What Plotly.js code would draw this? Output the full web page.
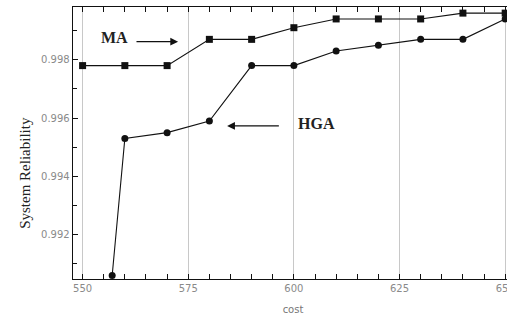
<!DOCTYPE html>
<html>
<head>
<meta charset="utf-8">
<script src="https://cdn.plot.ly/plotly-3.0.1.min.js"></script>
<style>
  html, body { margin: 0; padding: 0; background: #fff; overflow: hidden; width: 507px; height: 327px; }
  #chart { width: 530px; height: 327px; }
</style>
</head>
<body>
<div id="chart"></div>
<script>
// Cost values at which each algorithm was evaluated
const costMA = [550, 560, 570, 580, 590, 600, 610, 620, 630, 640, 650];
const reliabilityMA = [0.9978, 0.9978, 0.9978, 0.9987, 0.9987, 0.9991, 0.9994, 0.9994, 0.9994, 0.9996, 0.9996];

const costHGA = [557, 560, 570, 580, 590, 600, 610, 620, 630, 640, 650];
const reliabilityHGA = [0.9906, 0.9953, 0.9955, 0.9959, 0.9978, 0.9978, 0.9983, 0.9985, 0.9987, 0.9987, 0.9994];

const xTickVals = [550, 575, 600, 625, 650];
const yTickVals = [0.992, 0.994, 0.996, 0.998];
const yTickText = ['0.992', '0.994', '0.996', '0.998'];

const traces = [
  {
    x: costMA, y: reliabilityMA, mode: 'lines+markers', name: 'MA',
    line: { color: '#111', width: 1.1 },
    marker: { symbol: 'square', size: 7, color: '#111' },
    cliponaxis: false
  },
  {
    x: costHGA, y: reliabilityHGA, mode: 'lines+markers', name: 'HGA',
    line: { color: '#111', width: 1.1 },
    marker: { symbol: 'circle', size: 7, color: '#111' },
    cliponaxis: false
  }
];

const tickFont = { family: 'DejaVu Sans', size: 10, color: '#8a8a8a' };

const layout = {
  width: 530, height: 327,
  margin: { l: 73, r: 17, t: 7, b: 48 },
  paper_bgcolor: '#fff', plot_bgcolor: '#fff',
  showlegend: false,
  xaxis: {
    range: [547.73, 651.85],
    tickvals: xTickVals,
    ticks: 'inside', ticklen: 5, tickcolor: '#111', tickwidth: 1,
    minor: { dtick: 5, tick0: 550, ticks: 'inside', ticklen: 5, tickcolor: '#111', showgrid: false },
    showgrid: true, gridcolor: '#c8c8c8', gridwidth: 1,
    showline: true, linecolor: '#111', linewidth: 1.3, mirror: 'ticks',
    zeroline: false,
    tickfont: tickFont,
    title: { text: 'cost', font: { family: 'DejaVu Sans', size: 10, color: '#777' }, standoff: 12 }
  },
  yaxis: {
    range: [0.99048, 0.99981],
    tickvals: yTickVals, ticktext: yTickText,
    ticks: 'inside', ticklen: 5, tickcolor: '#111', tickwidth: 1,
    minor: { dtick: 0.001, tick0: 0.99, ticks: 'inside', ticklen: 4, tickcolor: '#111', showgrid: false },
    showgrid: false,
    showline: true, linecolor: '#111', linewidth: 1.3, mirror: 'ticks',
    zeroline: false,
    tickfont: tickFont
  },
  annotations: [
    {
      xref: 'paper', yref: 'paper', x: -0.132, y: 0.39,
      text: 'System Reliability', textangle: -90, showarrow: false,
      font: { family: 'Liberation Serif', size: 15, color: '#222' }
    },
    {
      x: 557.5, y: 0.99878, text: '<b>MA</b>', showarrow: false,
      font: { family: 'Liberation Serif', size: 16, color: '#222' }
    },
    {
      x: 572.6, y: 0.99862, ax: 562.4, ay: 0.99862, axref: 'x', ayref: 'y',
      text: '', showarrow: true, arrowhead: 2, arrowsize: 1.2, arrowwidth: 1.3, arrowcolor: '#111'
    },
    {
      x: 605.4, y: 0.99582, text: '<b>HGA</b>', showarrow: false,
      font: { family: 'Liberation Serif', size: 16, color: '#222' }
    },
    {
      x: 584.2, y: 0.99573, ax: 596.8, ay: 0.99573, axref: 'x', ayref: 'y',
      text: '', showarrow: true, arrowhead: 2, arrowsize: 1.2, arrowwidth: 1.3, arrowcolor: '#111'
    }
  ]
};

Plotly.newPlot('chart', traces, layout, { displayModeBar: false, staticPlot: true });
</script>
</body>
</html>
